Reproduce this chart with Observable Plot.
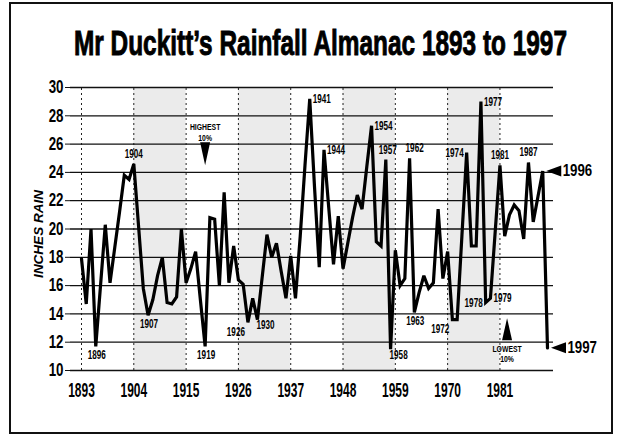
<!DOCTYPE html>
<html><head><meta charset="utf-8">
<script src="https://cdn.jsdelivr.net/npm/d3@7"></script>
<script src="https://cdn.jsdelivr.net/npm/@observablehq/plot@0.6"></script>
<style>
html,body{margin:0;padding:0;background:#fff;}
#wrap{position:relative;width:623px;height:436px;overflow:hidden;background:#fff;}
#title{position:absolute;left:0;top:0;width:623px;height:66px;}
#chart{position:absolute;left:0;top:66px;}
#frame{position:absolute;left:9px;top:2px;width:600px;height:428px;border:2px solid #111;pointer-events:none;}
</style></head><body>
<div id="wrap"><div id="title"></div><div id="chart"></div><div id="frame"></div></div>
<script>
// ---------- data ----------
const titleText = "Mr Duckitt\u2019s Rainfall Almanac 1893 to 1997";
const yLabel = "INCHES RAIN";
const years = [...d3.range(1893, 1990), 1996, 1997];
const rainfall = [
  17.9, 14.7, 20.0, 11.7, 16.0, 20.3, 16.2,                   // 1893-1899
  18.7, 21.2, 23.8, 23.5, 24.6, 20.2, 15.8, 13.9, 15.0, 16.7, // 1900s
  18.0, 14.8, 14.7, 15.2, 20.0, 16.2, 17.2, 18.4, 15.0, 11.7, // 1910s
  20.8, 20.7, 16.0, 22.6, 16.2, 18.8, 16.4, 16.1, 13.4, 15.1, // 1920s
  13.6, 16.6, 19.6, 18.0, 19.0, 17.0, 15.1, 18.1, 15.1, 19.5, // 1930s
  24.5, 29.2, 23.0, 17.3, 25.6, 21.5, 17.5, 20.9, 17.2, 19.0, // 1940s
  20.8, 22.4, 21.4, 24.4, 27.3, 19.1, 18.8, 24.9, 11.5, 18.5, // 1950s
  16.0, 16.5, 25.0, 14.1, 15.5, 16.7, 15.8, 16.2, 21.4, 16.5, // 1960s
  18.4, 13.6, 13.6, 19.5, 25.4, 18.8, 18.8, 29.0, 14.8, 15.1, // 1970s
  19.8, 24.5, 19.5, 21.0, 21.7, 21.3, 19.3, 24.7, 20.5, 22.3, // 1980s
  24.1, 11.6                                                   // 1996, 1997
];
const tickYears = [1893, 1904, 1915, 1926, 1937, 1948, 1959, 1970, 1981];
const bandStarts = [1904, 1926, 1948, 1970];
const yTicks = [10, 12, 14, 16, 18, 20, 22, 24, 26, 28, 30];
// year labels: text, data year they mark, placement
const annotations = [
  {text: "1896", year: 1896, place: "below"},
  {text: "1907", year: 1907, place: "below"},
  {text: "1919", year: 1919, place: "below"},
  {text: "1963", year: 1963, place: "below"},
  {text: "1926", year: 1928, place: "belowLeft"},
  {text: "1972", year: 1971, place: "belowLeft"},
  {text: "1930", year: 1930, place: "belowRight"},
  {text: "1958", year: 1958, place: "belowRight"},
  {text: "1904", year: 1904, place: "above"},
  {text: "1981", year: 1981, place: "above"},
  {text: "1987", year: 1987, place: "above"},
  {text: "1957", year: 1957, place: "aboveEnd"},
  {text: "1962", year: 1962, place: "aboveStart"},
  {text: "1941", year: 1941, place: "right"},
  {text: "1944", year: 1944, place: "right"},
  {text: "1954", year: 1954, place: "right"},
  {text: "1977", year: 1977, place: "right"},
  {text: "1979", year: 1979, place: "right"},
  {text: "1974", year: 1974, place: "left"},
  {text: "1978", year: 1978, place: "left"}
];
const ends = [{text: "1996", year: 1996}, {text: "1997", year: 1997}];
const thresholds = [
  {label: "HIGHEST", pct: "10%", year: 1919, value: 24.5, dir: "down"},
  {label: "LOWEST", pct: "10%", year: 1982.5, value: 13.7, dir: "up"}
];

// ---------- build ----------
const data = years.map((year, i) => ({year, rain: rainfall[i]}));
const rainByYear = new Map(data.map(d => [d.year, d.rain]));
const FONT = "'Liberation Sans', Arial, Helvetica, sans-serif";

// title: heavy, narrow lettering (natural size fits, then stretched tall)
const tsvg = d3.select("#title").append("svg").attr("width", 623).attr("height", 66);
tsvg.append("text")
  .attr("x", 74).attr("y", 0)
  .attr("transform", "translate(0,55) scale(1,1.34)")
  .attr("font-family", FONT).attr("font-weight", 700).attr("font-size", 26)
  .attr("textLength", 493).attr("lengthAdjust", "spacingAndGlyphs")
  .attr("fill", "#000").attr("stroke", "#000").attr("stroke-width", 0.7)
  .text(titleText);

// x scale: even yearly spacing, with the 1989-1996 gap closed up as in the original
const x0 = 81, step = 4.755;
const xDomain = [1893, 1989, 1996, 1997];
const xRange = [x0, x0 + 96 * step, x0 + 97 * step, x0 + 98 * step];

const sym = pts => ({draw(ctx) {
  ctx.moveTo(pts[0][0], pts[0][1]);
  for (const p of pts.slice(1)) ctx.lineTo(p[0], p[1]);
  ctx.closePath();
}});
const downTri = sym([[0, 0], [-5, -23], [5, -23]]);
const upTri = sym([[0, 0], [-5, 22], [5, 22]]);
const leftTri = sym([[0, 0], [15, -5.5], [15, 5.5]]);

const ann = p => annotations.filter(d => d.place === p);
const ax = d => d.year, ay = d => rainByYear.get(d.year);
const small = {fontSize: 12.5, fontWeight: 700, fill: "#000"};

const chart = Plot.plot({
  width: 623, height: 370,
  marginTop: 21, marginBottom: 66, marginLeft: 70, marginRight: 70,
  style: {fontFamily: FONT, background: "transparent", color: "#000", overflow: "visible"},
  x: {type: "linear", domain: xDomain, range: xRange},
  y: {domain: [10, 30]},
  marks: [
    Plot.rect(bandStarts, {x1: d => d, x2: d => d + 11, y1: 10, y2: 30, fill: "#ebebeb"}),
    Plot.ruleX(tickYears, {y1: 10, y2: 30, stroke: "#222", strokeWidth: 1, strokeDasharray: "2,3"}),
    Plot.ruleY(yTicks, {stroke: "#111", strokeWidth: 1.3}),
    Plot.axisY(yTicks, {tickSize: 5, tickPadding: 2, fontSize: 18, fontWeight: 700, label: null, stroke: "#111"}),
    Plot.axisX(tickYears, {tickSize: 0, tickPadding: 12, fontSize: 21, fontWeight: 700, label: null, tickFormat: d => String(d)}),
    Plot.text([yLabel], {text: d => d, frameAnchor: "left", textAnchor: "middle", lineAnchor: "middle",
      dx: -32, dy: 5, rotate: -90, fontSize: 13.5, fontWeight: 700, fontStyle: "italic", fill: "#000"}),
    Plot.line(data, {x: "year", y: "rain", stroke: "#000", strokeWidth: 3.2,
      strokeLinejoin: "miter", strokeMiterlimit: 3}),
    Plot.text(ann("below"), {x: ax, y: ay, text: "text", lineAnchor: "top", dy: 4, dx: 1, ...small}),
    Plot.text(ann("belowLeft"), {x: ax, y: ay, text: "text", textAnchor: "end", lineAnchor: "top", dx: -3, dy: 5, ...small}),
    Plot.text(ann("belowRight"), {x: ax, y: ay, text: "text", textAnchor: "start", lineAnchor: "top", dx: -1, dy: 1, ...small}),
    Plot.text(ann("above"), {x: ax, y: ay, text: "text", lineAnchor: "bottom", dy: -6, ...small}),
    Plot.text(ann("aboveEnd"), {x: ax, y: ay, text: "text", textAnchor: "end", lineAnchor: "bottom", dx: 11, dy: -6, ...small}),
    Plot.text(ann("aboveStart"), {x: ax, y: ay, text: "text", textAnchor: "start", lineAnchor: "bottom", dx: -4, dy: -6, ...small}),
    Plot.text(ann("right"), {x: ax, y: ay, text: "text", textAnchor: "start", dx: 3, ...small}),
    Plot.text(ann("left"), {x: ax, y: ay, text: "text", textAnchor: "end", dx: -3, ...small}),
    // highest / lowest 10% markers
    Plot.dot(thresholds.filter(d => d.dir === "down"), {x: "year", y: "value", symbol: downTri, fill: "#000", stroke: "none", r: 5}),
    Plot.dot(thresholds.filter(d => d.dir === "up"), {x: "year", y: "value", symbol: upTri, fill: "#000", stroke: "none", r: 5}),
    Plot.text(thresholds.filter(d => d.dir === "down"), {x: "year", y: "value", text: "label", lineAnchor: "bottom", dy: -35.8, fontSize: 9.5, fontWeight: 700, fill: "#000"}),
    Plot.text(thresholds.filter(d => d.dir === "down"), {x: "year", y: "value", text: "pct", lineAnchor: "bottom", dy: -24.8, fontSize: 9.5, fontWeight: 700, fill: "#000"}),
    Plot.text(thresholds.filter(d => d.dir === "up"), {x: "year", y: "value", text: "label", lineAnchor: "top", dy: 27.4, fontSize: 9.5, fontWeight: 700, fill: "#000"}),
    Plot.text(thresholds.filter(d => d.dir === "up"), {x: "year", y: "value", text: "pct", lineAnchor: "top", dy: 37.4, fontSize: 9.5, fontWeight: 700, fill: "#000"}),
    // end arrows
    Plot.dot(ends, {x: ax, y: ay, symbol: leftTri, fill: "#000", stroke: "none", r: 5, dx: 3.5}),
    Plot.text(ends, {x: ax, y: ay, text: "text", textAnchor: "start", dx: 20, fontSize: 17, fontWeight: 700, fill: "#000"})
  ]
});
document.getElementById("chart").appendChild(chart);

// condense the lettering like the original's narrow bold face
const squeeze = {"21px": 0.57, "18px": 0.74, "12.5px": 0.65, "17px": 0.78, "9.5px": 0.72};
chart.querySelectorAll("text").forEach(t => {
  if ((t.getAttribute("transform") || "").includes("rotate")) return;
  const f = squeeze[getComputedStyle(t).fontSize];
  if (!f) return;
  const L = t.getComputedTextLength();
  if (L > 0) {
    t.setAttribute("textLength", (L * f).toFixed(2));
    t.setAttribute("lengthAdjust", "spacingAndGlyphs");
  }
});
</script>
</body></html>
